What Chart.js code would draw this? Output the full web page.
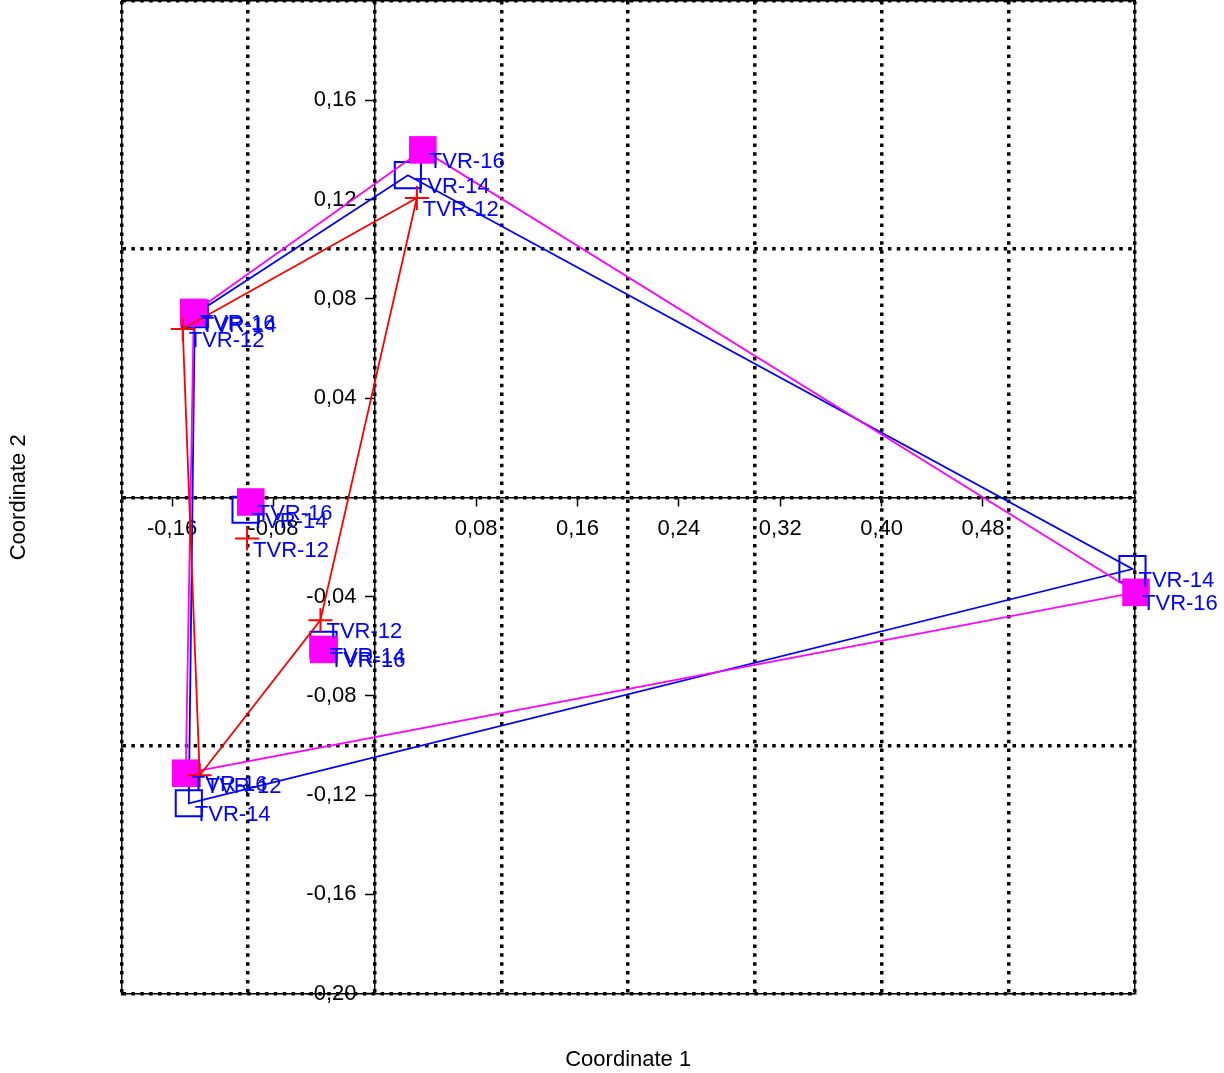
<!DOCTYPE html>
<html>
<head>
<meta charset="utf-8">
<script src="https://cdn.jsdelivr.net/npm/chart.js@4.4.1/dist/chart.umd.min.js"></script>
<style>
  html, body { margin: 0; padding: 0; background: #fff; }
  #wrap { width: 1224px; height: 1073px; }
</style>
</head>
<body>
<div id="wrap"><canvas id="pcoa" width="1224" height="1073"></canvas></div>
<script>
// PCoA scores, one x/y pair of arrays per group
const tvr12X = [-0.1516, 0.0332, -0.0429, -0.1008, -0.1382];
const tvr12Y = [0.0678, 0.1206, -0.0495, -0.0166, -0.1120];
const tvr14X = [-0.1421, 0.0261, 0.5980, -0.1468, -0.1020, -0.0405];
const tvr14Y = [0.0738, 0.1298, -0.0289, -0.1233, -0.0050, -0.0595];
const tvr16X = [-0.1429, 0.0379, 0.6008, -0.1492, -0.0979, -0.0403];
const tvr16Y = [0.0745, 0.1400, -0.0383, -0.1112, -0.0019, -0.0613];

// convex hull order, as indices into the arrays above
const tvr12Hull = [0, 1, 2, 4, 0];
const tvr14Hull = [0, 1, 2, 3, 0];
const tvr16Hull = [0, 1, 2, 3, 0];

// tick labels on the axes through the origin
const xTicks = [-0.16, -0.08, 0.08, 0.16, 0.24, 0.32, 0.40, 0.48];
const yTicks = [0.16, 0.12, 0.08, 0.04, -0.04, -0.08, -0.12, -0.16, -0.20];

const FONT = '"Liberation Sans", Arial, sans-serif';

function points(xs, ys) {
  return xs.map((x, i) => ({ x: x, y: ys[i] }));
}
function hull(xs, ys, order) {
  return order.map(i => ({ x: xs[i], y: ys[i] }));
}
function comma(v) {
  return Number(v).toFixed(2).replace('.', ',');
}

// blue sample names next to every marker
const pointLabels = {
  id: 'pointLabels',
  afterDatasetsDraw(chart) {
    const ctx = chart.ctx;
    ctx.save();
    ctx.font = '22px ' + FONT;
    ctx.fillStyle = '#0000ff';
    ctx.textBaseline = 'middle';
    ctx.textAlign = 'left';
    chart.data.datasets.forEach((ds, i) => {
      if (!ds.pointText) return;
      chart.getDatasetMeta(i).data.forEach(pt => {
        ctx.fillText(ds.pointText, pt.x + 6, pt.y + 12);
      });
    });
    ctx.restore();
  }
};

const lineSet = (data, color) => ({
  data: data, showLine: true, borderColor: color, borderWidth: 1.8,
  pointRadius: 0, fill: false, clip: false
});

// axes through the origin should not push the chart area around
const noPadding = s => {
  s.paddingTop = 0; s.paddingBottom = 0; s.paddingLeft = 0; s.paddingRight = 0;
};

new Chart(document.getElementById('pcoa'), {
  type: 'scatter',
  data: {
    datasets: [
      lineSet(hull(tvr12X, tvr12Y, tvr12Hull), '#ff0000'),
      {
        data: points(tvr12X, tvr12Y), pointText: 'TVR-12',
        pointStyle: 'cross', pointRadius: 12, borderColor: '#ff0000',
        borderWidth: 2, clip: false
      },
      lineSet(hull(tvr16X, tvr16Y, tvr16Hull), '#ff00ff'),
      {
        data: points(tvr16X, tvr16Y), pointText: 'TVR-16',
        pointStyle: 'rect', pointRadius: 19.5, backgroundColor: '#ff00ff',
        borderColor: '#ff00ff', borderWidth: 0, clip: false
      },
      lineSet(hull(tvr14X, tvr14Y, tvr14Hull), '#0000ff'),
      {
        data: points(tvr14X, tvr14Y), pointText: 'TVR-14',
        pointStyle: 'rect', pointRadius: 18.5, backgroundColor: 'rgba(0,0,0,0)',
        borderColor: '#0000ff', borderWidth: 2, clip: false
      }
    ]
  },
  options: {
    responsive: false,
    animation: false,
    devicePixelRatio: 1,
    layout: { autoPadding: false, padding: { left: 0, right: 89, top: 1, bottom: 0 } },
    plugins: { legend: { display: false }, tooltip: { enabled: false } },
    scales: {
      x: {
        type: 'linear', position: 'bottom', min: -0.2, max: 0.6,
        ticks: { display: false, stepSize: 0.1 },
        grid: { color: '#000', lineWidth: 3.5, drawTicks: false },
        border: { display: true, color: '#000', width: 1.5, dash: [3.5, 5.4] },
        title: {
          display: true, text: 'Coordinate 1', color: '#000',
          font: { size: 22, family: FONT }, padding: { top: 53, bottom: 0 }
        }
      },
      y: {
        type: 'linear', position: 'left', min: -0.2, max: 0.2,
        ticks: { display: false, stepSize: 0.1 },
        grid: { color: '#000', lineWidth: 3.5, drawTicks: false },
        border: { display: true, color: '#000', width: 1.5, dash: [3.5, 5.4] },
        title: {
          display: true, text: 'Coordinate 2', color: '#000',
          font: { size: 22, family: FONT }, padding: { top: 6, bottom: 89 }
        }
      },
      xTop: {
        type: 'linear', axis: 'x', position: 'top', min: -0.2, max: 0.6,
        ticks: { display: false }, grid: { display: false, drawTicks: false },
        border: { display: true, color: '#000', width: 1.5 }
      },
      yRight: {
        type: 'linear', axis: 'y', position: 'right', min: -0.2, max: 0.2,
        ticks: { display: false }, grid: { display: false, drawTicks: false },
        border: { display: true, color: '#000', width: 1.5 }
      },
      xZero: {
        type: 'linear', axis: 'x', position: { y: 0 }, min: -0.2, max: 0.6,
        afterBuildTicks: s => { s.ticks = xTicks.map(v => ({ value: v })); },
        afterFit: noPadding,
        ticks: {
          color: '#000', font: { size: 22, family: FONT }, padding: 10,
          autoSkip: false, maxRotation: 0, callback: v => comma(v)
        },
        grid: { drawOnChartArea: false, color: '#000', tickLength: 8, tickWidth: 1.5 },
        border: { display: true, color: '#000', width: 1.5 }
      },
      yZero: {
        type: 'linear', axis: 'y', position: { x: 0 }, min: -0.2, max: 0.2,
        afterBuildTicks: s => { s.ticks = yTicks.map(v => ({ value: v })); },
        afterFit: noPadding,
        ticks: {
          color: '#000', font: { size: 22, family: FONT }, padding: 8,
          // labels of an axis placed at x = 0 are drawn flush with it, so keep a gap
          autoSkip: false, callback: v => comma(v) + '\u00a0\u00a0\u00a0'
        },
        grid: { drawOnChartArea: false, color: '#000', tickLength: 9, tickWidth: 1.5 },
        border: { display: true, color: '#000', width: 1.5 }
      }
    }
  },
  plugins: [pointLabels]
});
</script>
</body>
</html>
